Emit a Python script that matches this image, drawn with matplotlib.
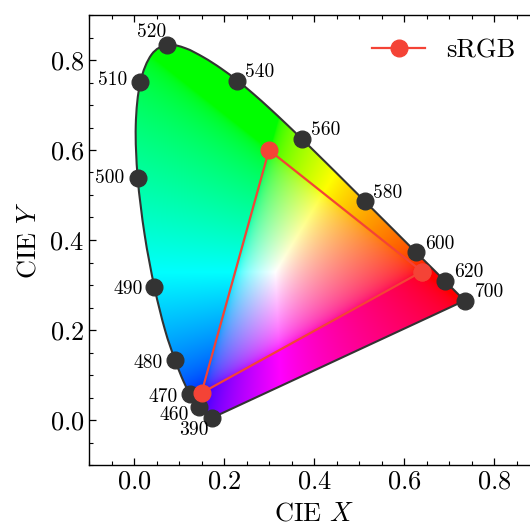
import numpy as np
import matplotlib
matplotlib.use("Agg")
import matplotlib.pyplot as plt
from matplotlib.patches import PathPatch
from matplotlib.path import Path

plt.rcParams.update({
    "font.family": "serif",
    "font.serif": ["cmr10"],
    "mathtext.fontset": "cm",
    "axes.formatter.use_mathtext": True,
    "xtick.direction": "in",
    "ytick.direction": "in",
    "xtick.top": True,
    "ytick.right": True,
    "xtick.major.size": 5,
    "ytick.major.size": 5,
    "xtick.minor.size": 3,
    "ytick.minor.size": 3,
    "xtick.major.width": 0.9,
    "ytick.major.width": 0.9,
    "xtick.minor.width": 0.8,
    "ytick.minor.width": 0.8,
    "axes.linewidth": 1.0,
})

# CIE 1931 2-degree spectral locus, 390-700 nm in 5 nm steps
wavelengths = list(range(390, 705, 5))
locus_x = [0.1738, 0.1736, 0.1733, 0.1730, 0.1726, 0.1721, 0.1714, 0.1703,
           0.1689, 0.1669, 0.1644, 0.1611, 0.1566, 0.1510, 0.1440, 0.1355,
           0.1241, 0.1096, 0.0913, 0.0687, 0.0454, 0.0235, 0.0082, 0.0039,
           0.0139, 0.0389, 0.0743, 0.1142, 0.1547, 0.1929, 0.2296, 0.2658,
           0.3016, 0.3373, 0.3731, 0.4087, 0.4441, 0.4788, 0.5125, 0.5448,
           0.5752, 0.6029, 0.6270, 0.6482, 0.6658, 0.6801, 0.6915, 0.7006,
           0.7079, 0.7140, 0.7190, 0.7230, 0.7260, 0.7283, 0.7300, 0.7311,
           0.7320, 0.7327, 0.7334, 0.7340, 0.7344, 0.7346, 0.7347]
locus_y = [0.0049, 0.0049, 0.0048, 0.0048, 0.0048, 0.0048, 0.0051, 0.0058,
           0.0069, 0.0086, 0.0109, 0.0138, 0.0177, 0.0227, 0.0297, 0.0399,
           0.0578, 0.0868, 0.1327, 0.2007, 0.2950, 0.4127, 0.5384, 0.6548,
           0.7502, 0.8120, 0.8338, 0.8262, 0.8059, 0.7816, 0.7543, 0.7243,
           0.6923, 0.6589, 0.6245, 0.5896, 0.5547, 0.5202, 0.4866, 0.4544,
           0.4242, 0.3965, 0.3725, 0.3514, 0.3340, 0.3197, 0.3083, 0.2993,
           0.2920, 0.2859, 0.2809, 0.2770, 0.2740, 0.2717, 0.2700, 0.2689,
           0.2680, 0.2673, 0.2666, 0.2660, 0.2656, 0.2654, 0.2653]

marked_nm = [390, 460, 470, 480, 490, 500, 510, 520, 540, 560, 580, 600, 620, 700]
# label offsets in pixels (dx, dy) and alignment
label_offsets = {
    390: (-4, -12, "right"), 460: (-10, -8, "right"), 470: (-12, -3, "right"),
    480: (-12, -3, "right"), 490: (-12, -2, "right"), 500: (-13, 0, "right"),
    510: (-13, 2, "right"), 520: (-1, 13, "right"), 540: (8, 9, "left"),
    560: (9, 9, "left"), 580: (8, 8, "left"), 600: (9, 8, "left"),
    620: (9, 9, "left"), 700: (10, 9, "left"),
}

srgb_x = [0.64, 0.30, 0.15, 0.64]
srgb_y = [0.33, 0.60, 0.06, 0.33]

XYZ_TO_RGB = np.array([[3.2406, -1.5372, -0.4986],
                       [-0.9689, 1.8758, 0.0415],
                       [0.0557, -0.2040, 1.0570]])


def xy_to_rgb(gx, gy):
    gy = np.clip(gy, 1e-3, None)
    X = gx / gy
    Z = (1 - gx - gy) / gy
    xyz = np.stack([X, np.ones_like(X), Z], axis=-1)
    rgb = xyz @ XYZ_TO_RGB.T
    rgb = np.clip(rgb, 0, None)
    rgb = rgb / np.clip(rgb.max(axis=-1, keepdims=True), 1e-9, None)
    return np.where(rgb <= 0.0031308, 12.92 * rgb,
                    1.055 * rgb ** (1 / 2.4) - 0.055)


def smooth_path(px, py):
    # Bezier curve through the locus points (Catmull-Rom handles),
    # closed by a straight line of purples
    pts = np.column_stack([px, py])
    verts = [pts[0]]
    codes = [Path.MOVETO]
    n = len(pts)
    for i in range(n - 1):
        p0 = pts[max(i - 1, 0)]
        p1, p2 = pts[i], pts[i + 1]
        p3 = pts[min(i + 2, n - 1)]
        verts += [p1 + (p2 - p0) / 6, p2 - (p3 - p1) / 6, p2]
        codes += [Path.CURVE4] * 3
    verts += [pts[0], pts[0]]
    codes += [Path.LINETO, Path.CLOSEPOLY]
    return Path(verts, codes)


fig = plt.figure(figsize=(5.30, 5.28), dpi=100)
ax = fig.add_axes([89 / 530, 1 - 465 / 528, 450 / 530, 450 / 528])

gx, gy = np.meshgrid(np.linspace(-0.01, 0.76, 520), np.linspace(0, 0.86, 580))
img = xy_to_rgb(gx, gy)
im = ax.imshow(img, origin="lower", extent=(-0.01, 0.76, 0, 0.86),
               interpolation="bilinear", zorder=1)
patch = PathPatch(smooth_path(locus_x, locus_y), facecolor="none",
                  edgecolor="#333333", lw=1.5, joinstyle="round", zorder=2)
ax.add_patch(patch)
im.set_clip_path(patch)

for nm in marked_nm:
    i = wavelengths.index(nm)
    ax.plot(locus_x[i], locus_y[i], "o", color="#333333", ms=12, zorder=3)
    dx, dy, ha = label_offsets[nm]
    ax.annotate(str(nm), (locus_x[i], locus_y[i]), xytext=(dx, dy),
                textcoords="offset pixels", ha=ha, va="center", fontsize=14)

ax.plot(srgb_x, srgb_y, "o-", color="#F44336", lw=1.6, ms=12, label="sRGB",
        zorder=4)
ax.legend(loc="upper right", frameon=False, fontsize=19, handlelength=2.0,
          borderaxespad=0.5)

ax.set_xlim(-0.1, 0.9)
ax.set_ylim(-0.1, 0.9)
ax.set_xticks([0.0, 0.2, 0.4, 0.6, 0.8])
ax.set_yticks([0.0, 0.2, 0.4, 0.6, 0.8])
ax.xaxis.set_minor_locator(matplotlib.ticker.MultipleLocator(0.05))
ax.yaxis.set_minor_locator(matplotlib.ticker.MultipleLocator(0.05))
ax.tick_params(labelsize=19)
ax.set_xlabel("CIE $X$", fontsize=19, labelpad=6)
ax.set_ylabel("CIE $Y$", fontsize=19, labelpad=6)

fig.savefig("out.png", dpi=100)
